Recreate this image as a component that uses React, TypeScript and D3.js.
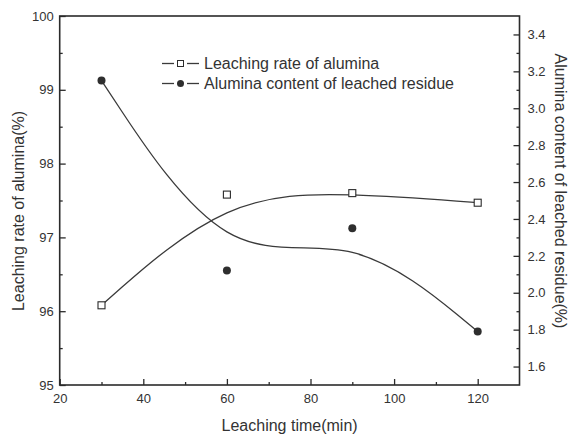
import React, { useEffect, useRef } from "react";
import * as d3 from "d3";

const times = [30, 60, 90, 120];
const leachingRate = [96.08, 97.58, 97.6, 97.47];
const aluminaContent = [3.15, 2.12, 2.35, 1.79];

const xMajorTicks = [20, 40, 60, 80, 100, 120];
const xMinorTicks = [30, 50, 70, 90, 110];
const leftMajorTicks = [95, 96, 97, 98, 99, 100];
const leftMinorTicks = [95.5, 96.5, 97.5, 98.5, 99.5];
const rightMajorTicks = [1.6, 1.8, 2.0, 2.2, 2.4, 2.6, 2.8, 3.0, 3.2, 3.4];
const rightMinorTicks = [1.7, 1.9, 2.1, 2.3, 2.5, 2.7, 2.9, 3.1, 3.3];

const seriesNames = ["Leaching rate of alumina", "Alumina content of leached residue"];
const xTitle = "Leaching time(min)";
const leftTitle = "Leaching rate of alumina(%)";
const rightTitle = "Alumina content of leached residue(%)";

const W = 570;
const H = 438;
const M = { left: 59.7, right: 519.5, top: 16, bottom: 385 };
const FONT = "'Liberation Sans', Arial, Helvetica, sans-serif";
const INK = "#2b2b2b";

export default function App() {
  const ref = useRef<SVGSVGElement>(null);

  useEffect(() => {
    const svg = d3.select(ref.current);
    svg.selectAll("*").remove();

    const x = d3.scaleLinear().domain([20, 130]).range([M.left, M.right]);
    const yL = d3.scaleLinear().domain([95, 100]).range([M.bottom, M.top]);
    const yR = d3.scaleLinear().domain([1.5, 3.5]).range([M.bottom, M.top]);

    svg.append("rect").attr("width", W).attr("height", H).attr("fill", "#fff");

    const styleAxis = (g: any) => {
      g.select(".domain").remove();
      g.selectAll("line").attr("stroke", INK).attr("stroke-width", 1.3);
      g.selectAll("text").attr("fill", "#333").attr("font-family", FONT).attr("font-size", 13);
    };

    // x axis
    svg.append("g").attr("transform", `translate(0,${M.bottom})`)
      .call(d3.axisBottom(x).tickValues(xMajorTicks).tickSize(-6).tickSizeOuter(0).tickPadding(9).tickFormat(d3.format("d")))
      .call(styleAxis);
    svg.append("g").attr("transform", `translate(0,${M.bottom})`)
      .call(d3.axisBottom(x).tickValues(xMinorTicks).tickSize(-3).tickSizeOuter(0).tickFormat(() => ""))
      .call(styleAxis);

    // left axis
    svg.append("g").attr("transform", `translate(${M.left},0)`)
      .call(d3.axisLeft(yL).tickValues(leftMajorTicks).tickSize(-6).tickSizeOuter(0).tickPadding(6).tickFormat(d3.format("d")))
      .call(styleAxis);
    svg.append("g").attr("transform", `translate(${M.left},0)`)
      .call(d3.axisLeft(yL).tickValues(leftMinorTicks).tickSize(-3).tickSizeOuter(0).tickFormat(() => ""))
      .call(styleAxis);

    // right axis
    svg.append("g").attr("transform", `translate(${M.right},0)`)
      .call(d3.axisRight(yR).tickValues(rightMajorTicks).tickSize(-6).tickSizeOuter(0).tickPadding(8).tickFormat(d3.format(".1f")))
      .call(styleAxis);
    svg.append("g").attr("transform", `translate(${M.right},0)`)
      .call(d3.axisRight(yR).tickValues(rightMinorTicks).tickSize(-3).tickSizeOuter(0).tickFormat(() => ""))
      .call(styleAxis);

    // frame
    svg.append("rect")
      .attr("x", M.left).attr("y", M.top)
      .attr("width", M.right - M.left).attr("height", M.bottom - M.top)
      .attr("fill", "none").attr("stroke", INK).attr("stroke-width", 1.6);

    const lineL = d3.line<number>().x((_, i) => x(times[i])).y((d) => yL(d)).curve(d3.curveBasis);
    const lineR = d3.line<number>().x((_, i) => x(times[i])).y((d) => yR(d)).curve(d3.curveBasis);

    svg.append("path").attr("d", lineL(leachingRate) as string)
      .attr("fill", "none").attr("stroke", "#3a3a3a").attr("stroke-width", 1.3);
    svg.append("path").attr("d", lineR(aluminaContent) as string)
      .attr("fill", "none").attr("stroke", "#3a3a3a").attr("stroke-width", 1.3);

    svg.append("g").selectAll("rect").data(leachingRate).join("rect")
      .attr("x", (_, i) => x(times[i]) - 3.5).attr("y", (d) => yL(d) - 3.5)
      .attr("width", 7).attr("height", 7)
      .attr("fill", "#fff").attr("stroke", INK).attr("stroke-width", 1.1);
    svg.append("g").selectAll("circle").data(aluminaContent).join("circle")
      .attr("cx", (_, i) => x(times[i])).attr("cy", (d) => yR(d)).attr("r", 4)
      .attr("fill", "#2e2e2e");

    // legend
    const legend = svg.append("g").attr("transform", "translate(162,0)");
    const rows = [63.5, 83.5];
    seriesNames.forEach((name, i) => {
      const g = legend.append("g").attr("transform", `translate(0,${rows[i]})`);
      g.append("line").attr("x1", 0).attr("x2", 12).attr("y1", 0).attr("y2", 0)
        .attr("stroke", "#3a3a3a").attr("stroke-width", 1.3);
      g.append("line").attr("x1", 25).attr("x2", 37).attr("y1", 0).attr("y2", 0)
        .attr("stroke", "#3a3a3a").attr("stroke-width", 1.3);
      if (i === 0) {
        g.append("rect").attr("x", 18.5 - 3).attr("y", -3).attr("width", 6).attr("height", 6)
          .attr("fill", "#fff").attr("stroke", INK).attr("stroke-width", 1);
      } else {
        g.append("circle").attr("cx", 18.5).attr("cy", 0).attr("r", 3.5).attr("fill", "#2e2e2e");
      }
      g.append("text").attr("x", 42).attr("y", 0).attr("dy", "0.35em")
        .attr("font-family", FONT).attr("font-size", 16).attr("fill", "#333").text(name);
    });

    // titles
    svg.append("text").attr("x", (M.left + M.right) / 2).attr("y", 431)
      .attr("text-anchor", "middle").attr("font-family", FONT).attr("font-size", 16).attr("fill", "#333")
      .text(xTitle);
    svg.append("text").attr("transform", `translate(24,211) rotate(-90)`)
      .attr("text-anchor", "middle").attr("font-family", FONT).attr("font-size", 16).attr("fill", "#333")
      .text(leftTitle);
    svg.append("text").attr("transform", `translate(555,191) rotate(90)`)
      .attr("text-anchor", "middle").attr("font-family", FONT).attr("font-size", 16).attr("fill", "#333")
      .text(rightTitle);
  }, []);

  return (
    <svg ref={ref} width={W} height={H} style={{ position: "absolute", left: 0, top: 0, display: "block" }} />
  );
}
